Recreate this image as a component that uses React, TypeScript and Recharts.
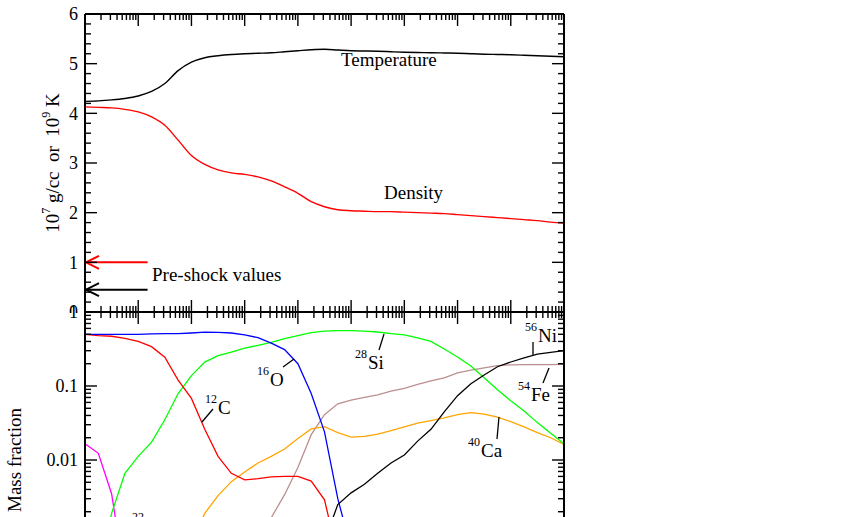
import React from 'react';
import { LineChart, Line, XAxis, YAxis, ReferenceLine } from 'recharts';

// time grid, quarter decades from 1e-9 to 1
const time = [
  1e-9, 1.78e-9, 3.16e-9, 5.62e-9, 1e-8, 1.78e-8, 3.16e-8, 5.62e-8,
  1e-7, 1.78e-7, 3.16e-7, 5.62e-7, 1e-6, 1.78e-6, 3.16e-6, 5.62e-6,
  1e-5, 1.78e-5, 3.16e-5, 5.62e-5, 1e-4, 1.78e-4, 3.16e-4, 5.62e-4,
  1e-3, 1.78e-3, 3.16e-3, 5.62e-3, 0.01, 0.0178, 0.0316, 0.0562,
  0.1, 0.178, 0.316, 0.562, 1,
];

// top panel: 10^9 K and 10^7 g/cc
const temperature = [
  4.24, 4.25, 4.27, 4.3, 4.35, 4.44, 4.6, 4.86, 5.03, 5.12, 5.16, 5.185,
  5.2, 5.21, 5.22, 5.24, 5.26, 5.28, 5.29, 5.275, 5.26, 5.255, 5.25, 5.24,
  5.23, 5.225, 5.22, 5.215, 5.21, 5.2, 5.19, 5.185, 5.18, 5.17, 5.16, 5.15, 5.14,
];
const density = [
  4.13, 4.12, 4.11, 4.08, 4.03, 3.93, 3.76, 3.46, 3.15, 2.97, 2.86, 2.8,
  2.77, 2.72, 2.64, 2.52, 2.39, 2.22, 2.12, 2.06, 2.04, 2.03, 2.02, 2.02,
  2.01, 2.0, 1.99, 1.98, 1.96, 1.94, 1.92, 1.9, 1.88, 1.86, 1.84, 1.81, 1.79,
];

// pre-shock values (arrows)
const preShockDensity = 1.0;
const preShockTemperature = 0.45;
const arrowTail = 1.5e-8;
const arrowTip = 1e-9;

// bottom panel: mass fractions
const c12 = [
  0.5, 0.48, 0.47, 0.44, 0.4, 0.34, 0.245, 0.12, 0.068, 0.026, 0.0112, 0.0066,
  0.0054, 0.0056, 0.0059, 0.006, 0.006, 0.0052, 0.0029, 0.0005, 0.00012, 3e-5,
  null, null, null, null, null, null, null, null, null, null, null, null, null, null, null,
];
const o16 = [
  0.5, 0.5, 0.5, 0.5, 0.5, 0.505, 0.51, 0.51, 0.52, 0.535, 0.53, 0.52,
  0.49, 0.45, 0.38, 0.31, 0.2, 0.079, 0.024, 0.003, 0.00063, 0.000126, 2.5e-5,
  null, null, null, null, null, null, null, null, null, null, null, null, null, null,
];
const si28 = [
  null, 0.00025, 0.0019, 0.0066, 0.0112, 0.0174, 0.035, 0.079, 0.138, 0.21, 0.257, 0.288,
  0.324, 0.355, 0.39, 0.437, 0.48, 0.525, 0.55, 0.56, 0.56, 0.55, 0.537, 0.51,
  0.49, 0.447, 0.4, 0.316, 0.247, 0.186, 0.129, 0.089, 0.063, 0.046, 0.032, 0.023, 0.0166,
];
const ne22 = [
  0.0166, 0.0123, 0.0035, 0.00025, 3e-5, null, null, null, null, null, null, null,
  null, null, null, null, null, null, null, null, null, null, null, null,
  null, null, null, null, null, null, null, null, null, null, null, null, null,
];
const ca40 = [
  null, null, null, null, null, null, null, 0.00032, 0.0008, 0.0019, 0.0033, 0.0051,
  0.0069, 0.0091, 0.0112, 0.0141, 0.0195, 0.0263, 0.0282, 0.0234, 0.0204, 0.0209, 0.0224, 0.025,
  0.028, 0.0316, 0.034, 0.037, 0.041, 0.0437, 0.0417, 0.038, 0.033, 0.028, 0.0234, 0.02, 0.0162,
];
const fe54 = [
  null, null, null, null, null, null, null, null, null, null, null, null,
  0.0002, 0.00063, 0.00166, 0.0034, 0.0079, 0.022, 0.041, 0.0575, 0.0646, 0.07, 0.076, 0.085,
  0.093, 0.105, 0.117, 0.129, 0.15, 0.164, 0.176, 0.188, 0.193, 0.195, 0.195, 0.195, 0.196,
];
const ni56 = [
  null, null, null, null, null, null, null, null, null, null, null, null,
  null, null, null, null, null, 0.00016, 0.0008, 0.0025, 0.0036, 0.0047, 0.0066, 0.0091,
  0.0117, 0.018, 0.026, 0.0447, 0.074, 0.107, 0.141, 0.182, 0.211, 0.24, 0.27, 0.285, 0.3,
];

const topTickLabels = ['0', '1', '2', '3', '4', '5', '6'];
const bottomTickLabels = ['0.0001', '0.001', '0.01', '0.1', '1'];

const FONT = '"Liberation Serif", "Times New Roman", serif';

// log axis tick positions: 1..9 in every decade
function logTicks(lo: number, hi: number) {
  const out: number[] = [];
  for (let k = lo; k < hi; k++) for (let a = 1; a <= 9; a++) out.push(a * Math.pow(10, k));
  out.push(Math.pow(10, hi));
  return out;
}
const xTicks = logTicks(-9, 0);
const massTicks = logTicks(-4, 0);
const linTicks = Array.from({ length: 31 }, (_, i) => i / 5);

const isDecade = (v: number) => Math.abs(Math.log10(v) - Math.round(Math.log10(v))) < 1e-6;
const isWhole = (v: number) => Math.abs(v - Math.round(v)) < 1e-6;

const MAJOR = 12;
const MINOR = 6;

const xTick = (dir: number) => (props: any) => {
  const { x, y, payload } = props;
  const len = isDecade(payload.value) ? MAJOR : MINOR;
  return <line x1={x} y1={y} x2={x} y2={y + dir * len} stroke="#000" strokeWidth={1.4} />;
};

const yTick = (dir: number, major: (v: number) => boolean, label?: (v: number) => string) => (props: any) => {
  const { x, y, payload } = props;
  const big = major(payload.value);
  return (
    <g>
      <line x1={x} y1={y} x2={x + dir * (big ? MAJOR : MINOR)} y2={y} stroke="#000" strokeWidth={1.4} />
      {label && big ? (
        <text x={x - 7} y={y} dy="0.36em" textAnchor="end" fontSize={18} fontFamily={FONT} fill="#000">
          {label(payload.value)}
        </text>
      ) : null}
    </g>
  );
};

const arrowShape = (color: string) => (props: any) => {
  const { x1, y1, x2, y2 } = props;
  return (
    <g>
      <line x1={x1} y1={y1} x2={x2 + 1} y2={y2} stroke={color} strokeWidth={2} />
      <polyline
        points={`${x2 + 14},${y2 - 6.5} ${x2 + 1},${y2} ${x2 + 14},${y2 + 6.5}`}
        fill="none"
        stroke={color}
        strokeWidth={2}
      />
    </g>
  );
};

const axisLine = { stroke: '#000', strokeWidth: 2 };

function Iso({ x, y, mass, el }: { x: number; y: number; mass: string; el: string }) {
  return (
    <g fontFamily={FONT} fill="#000">
      <text x={x} y={y - 11} fontSize={12}>{mass}</text>
      <text x={x + 13} y={y} fontSize={19}>{el}</text>
    </g>
  );
}

export default function App() {
  const topData = time.map((t, i) => ({ t, temperature: temperature[i], density: density[i] }));
  const bottomData = time.map((t, i) => ({
    t,
    c12: c12[i],
    o16: o16[i],
    si28: si28[i],
    ne22: ne22[i],
    ca40: ca40[i],
    fe54: fe54[i],
    ni56: ni56[i],
  }));

  const xCommon = {
    dataKey: 't',
    type: 'number' as const,
    scale: 'log' as const,
    domain: [1e-9, 1],
    allowDataOverflow: true,
    ticks: xTicks,
    interval: 0,
    height: 30,
    mirror: true,
    tickSize: 0,
    tickMargin: 0,
    tickLine: false,
    axisLine,
  };

  const rightCommon = {
    yAxisId: 'right',
    orientation: 'right' as const,
    type: 'number' as const,
    allowDataOverflow: true,
    interval: 0,
    width: 30,
    mirror: true,
    tickSize: 0,
    tickMargin: 0,
    tickLine: false,
    axisLine,
  };

  return (
    <div style={{ position: 'absolute', left: 0, top: 0, width: 853, height: 517, overflow: 'hidden', background: '#fff' }}>
      <div style={{ position: 'absolute', left: 0, top: 0 }}>
        <LineChart width={853} height={313} data={topData} margin={{ top: 14, right: 289, bottom: 1, left: 0 }}>
          <XAxis {...xCommon} xAxisId={0} orientation="bottom" tick={xTick(-1)} />
          <XAxis {...xCommon} xAxisId="top" orientation="top" tick={xTick(1)} />
          <YAxis
            yAxisId={0}
            type="number"
            domain={[0, 6]}
            allowDataOverflow
            ticks={linTicks}
            interval={0}
            width={85}
            tickSize={0}
            tickMargin={0}
            tickLine={false}
            axisLine={axisLine}
            tick={yTick(1, isWhole, (v) => topTickLabels[Math.round(v)])}
          />
          <YAxis {...rightCommon} domain={[0, 6]} ticks={linTicks} tick={yTick(-1, isWhole)} />
          <Line dataKey="temperature" type="monotone" stroke="#000000" strokeWidth={1.4} dot={false} isAnimationActive={false} />
          <Line dataKey="density" type="monotone" stroke="#ff0000" strokeWidth={1.4} dot={false} isAnimationActive={false} />
          <ReferenceLine
            segment={[{ x: arrowTail, y: preShockDensity }, { x: arrowTip, y: preShockDensity }]}
            shape={arrowShape('#ff0000')}
            ifOverflow="visible"
          />
          <ReferenceLine
            segment={[{ x: arrowTail, y: preShockTemperature }, { x: arrowTip, y: preShockTemperature }]}
            shape={arrowShape('#000000')}
            ifOverflow="visible"
          />
        </LineChart>
      </div>

      <div style={{ position: 'absolute', left: 0, top: 302 }}>
        <LineChart width={853} height={316} data={bottomData} margin={{ top: 10, right: 289, bottom: 10, left: 0 }}>
          <XAxis {...xCommon} xAxisId={0} orientation="bottom" tick={xTick(-1)} />
          <XAxis {...xCommon} xAxisId="top" orientation="top" tick={xTick(1)} />
          <YAxis
            yAxisId={0}
            type="number"
            scale="log"
            domain={[1e-4, 1]}
            allowDataOverflow
            ticks={massTicks}
            interval={0}
            width={85}
            tickSize={0}
            tickMargin={0}
            tickLine={false}
            axisLine={axisLine}
            tick={yTick(1, isDecade, (v) => bottomTickLabels[Math.round(Math.log10(v)) + 4])}
          />
          <YAxis {...rightCommon} scale="log" domain={[1e-4, 1]} ticks={massTicks} tick={yTick(-1, isDecade)} />
          <Line dataKey="ne22" type="linear" stroke="#ff00ff" strokeWidth={1.3} dot={false} isAnimationActive={false} />
          <Line dataKey="fe54" type="linear" stroke="#bc8f8f" strokeWidth={1.3} dot={false} isAnimationActive={false} />
          <Line dataKey="ca40" type="linear" stroke="#ffa500" strokeWidth={1.3} dot={false} isAnimationActive={false} />
          <Line dataKey="si28" type="linear" stroke="#00ff00" strokeWidth={1.3} dot={false} isAnimationActive={false} />
          <Line dataKey="c12" type="linear" stroke="#ff0000" strokeWidth={1.3} dot={false} isAnimationActive={false} />
          <Line dataKey="o16" type="linear" stroke="#0000ff" strokeWidth={1.3} dot={false} isAnimationActive={false} />
          <Line dataKey="ni56" type="linear" stroke="#000000" strokeWidth={1.3} dot={false} isAnimationActive={false} />
        </LineChart>
      </div>

      <svg width={853} height={517} style={{ position: 'absolute', left: 0, top: 0, pointerEvents: 'none' }}>
        <g fontFamily={FONT} fill="#000">
          <text transform="translate(59,163) rotate(-90)" textAnchor="middle" fontSize={19} xmlSpace="preserve">
            10<tspan fontSize={12} dy={-9}>7</tspan>
            <tspan dy={9}>{' g/cc  or  10'}</tspan>
            <tspan fontSize={12} dy={-9}>9</tspan>
            <tspan dy={9}>{' K'}</tspan>
          </text>
          <text transform="translate(21,460) rotate(-90)" textAnchor="middle" fontSize={19}>
            Mass fraction
          </text>
          <text x={341} y={66} fontSize={19}>Temperature</text>
          <text x={384} y={199} fontSize={19}>Density</text>
          <text x={152} y={281} fontSize={19}>Pre-shock values</text>
        </g>
        <g stroke="#000" strokeWidth={1.3}>
          <line x1={213} y1={409} x2={202} y2={422} />
          <line x1={283} y1={367} x2={294} y2={359} />
          <line x1={379} y1={350} x2={384} y2={334} />
          <line x1={533} y1={342} x2={533} y2={355} />
          <line x1={543} y1={383} x2={549} y2={368} />
          <line x1={497} y1={439} x2={499} y2={417} />
        </g>
        <Iso x={205} y={414} mass="12" el="C" />
        <Iso x={257} y={386} mass="16" el="O" />
        <Iso x={355} y={369} mass="28" el="Si" />
        <Iso x={525} y={342} mass="56" el="Ni" />
        <Iso x={518} y={401} mass="54" el="Fe" />
        <Iso x={468} y={457} mass="40" el="Ca" />
        <Iso x={132} y={532} mass="22" el="Ne" />
      </svg>
    </div>
  );
}
